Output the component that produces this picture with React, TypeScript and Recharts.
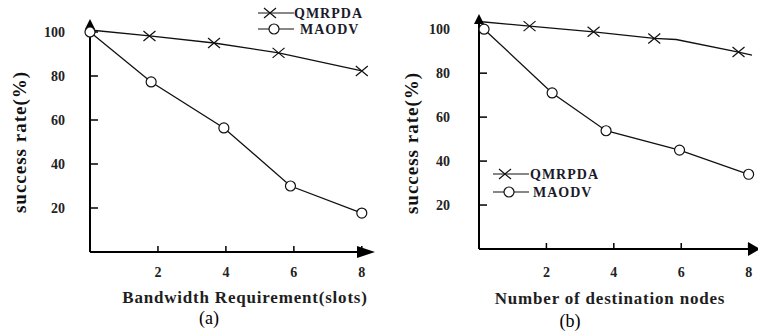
import { LineChart, Line, XAxis, YAxis, Legend, ReferenceDot } from "recharts"

const FONT = '"Liberation Serif", "Times New Roman", serif'
const INK = "#111"

const X_TICKS = [2, 4, 6, 8]
const Y_TICKS = [20, 40, 60, 80, 100]
const SERIES = ["QMRPDA", "MAODV"]

// (a) success rate vs bandwidth requirement (slots)
const A_QMRPDA_X = [0, 1.75, 3.65, 5.55, 8]
const A_QMRPDA_Y = [100.9, 98.2, 95, 90.5, 82.3]
const A_QMRPDA_MARKED = [false, true, true, true, true]
const A_MAODV_X = [0, 1.8, 3.94, 5.9, 8]
const A_MAODV_Y = [100, 77.3, 56.4, 30, 17.7]

// (b) success rate vs number of destination nodes
const B_QMRPDA_X = [0, 1.5, 3.4, 5.2, 5.85, 7.7, 8.1]
const B_QMRPDA_Y = [103.5, 101.4, 98.8, 95.8, 95.3, 89.6, 88.2]
const B_QMRPDA_MARKED = [false, true, true, true, false, true, false]
const B_MAODV_X = [0.15, 2.17, 3.77, 5.95, 8]
const B_MAODV_Y = [100, 71, 53.8, 45, 34]

const toPoints = (xs: number[], ys: number[]) => xs.map((x, i) => ({ x, y: ys[i] }))

function crossDot(marked: boolean[]) {
  return (p: any) => {
    const { cx, cy, index } = p
    if (!marked[index]) return <g key={`c${index}`} />
    return (
      <path
        key={`c${index}`}
        d={`M${cx - 6},${cy - 5}L${cx + 6},${cy + 5}M${cx - 6},${cy + 5}L${cx + 6},${cy - 5}`}
        stroke={INK}
        strokeWidth={1.2}
        fill="none"
      />
    )
  }
}

const circleDot = { r: 5, fill: "#fff", stroke: INK, strokeWidth: 1.2 }

const UpArrow = (p: any) => (
  <path d={`M${p.cx},${p.cy - 2}L${p.cx - 5},${p.cy + 8}L${p.cx + 5},${p.cy + 8}Z`} fill="#000" />
)

const rightArrow = (back: number, tip: number, half: number) => (p: any) => (
  <path
    d={`M${p.cx + tip},${p.cy}L${p.cx - back},${p.cy - half}L${p.cx - back},${p.cy + half}Z`}
    fill="#000"
  />
)

function LegendBox({ textX, gap }: { textX: [number, number]; gap: number }) {
  const y1 = 9
  const y2 = 9 + gap
  const txt = { fontFamily: FONT, fontSize: 14, fontWeight: 700, fill: "#1a1a2a", letterSpacing: 1 }
  return (
    <svg width={120} height={y2 + 10} style={{ display: "block" }}>
      <line x1={0} x2={36} y1={y1} y2={y1} stroke={INK} strokeWidth={1.2} />
      <path d={`M6,${y1 - 5}L18,${y1 + 5}M6,${y1 + 5}L18,${y1 - 5}`} stroke={INK} strokeWidth={1.2} />
      <text x={textX[0]} y={y1} dominantBaseline="central" style={txt}>{SERIES[0]}</text>
      <line x1={0} x2={36} y1={y2} y2={y2} stroke={INK} strokeWidth={1.2} />
      <circle cx={16} cy={y2} r={5} fill="#fff" stroke={INK} strokeWidth={1.2} />
      <text x={textX[1]} y={y2} dominantBaseline="central" style={txt}>{SERIES[1]}</text>
    </svg>
  )
}

interface PanelProps {
  left: number
  yAxisWidth: number
  margin: { top: number; right: number; left: number; bottom: number }
  yMax: number
  xMax: number
  yTickMargin: number
  xTickMargin: number
  qmrpda: { x: number; y: number }[]
  qmrpdaMarked: boolean[]
  maodv: { x: number; y: number }[]
  xTitle: string
  xTitlePos: [number, number]
  yTitlePos: [number, number]
  legendPos: [number, number]
  legendTextX: [number, number]
  legendGap: number
  arrow: [number, number, number]
}

function Panel(p: PanelProps) {
  const tick = { fontSize: 14, fontWeight: 700, fill: "#222", fontFamily: FONT }
  return (
    <div style={{ position: "absolute", left: p.left, top: 0 }}>
      <LineChart width={380} height={336} margin={p.margin} style={{ fontFamily: FONT }}>
        <XAxis
          dataKey="x"
          type="number"
          domain={[0, p.xMax]}
          ticks={X_TICKS}
          height={40}
          tick={tick}
          tickSize={-6}
          tickMargin={p.xTickMargin}
          tickLine={{ stroke: "#000", strokeWidth: 1.5 }}
          axisLine={{ stroke: "#000", strokeWidth: 2 }}
          label={{
            content: () => (
              <text
                x={p.xTitlePos[0]}
                y={p.xTitlePos[1]}
                textAnchor="middle"
                dominantBaseline="central"
                style={{ fontFamily: FONT, fontSize: 17, fontWeight: 700, fill: "#1e1e1e", letterSpacing: 0.8 }}
              >
                {p.xTitle}
              </text>
            ),
          }}
        />
        <YAxis
          type="number"
          domain={[0, p.yMax]}
          ticks={Y_TICKS}
          width={p.yAxisWidth}
          tick={tick}
          tickSize={-8}
          tickMargin={p.yTickMargin}
          tickLine={{ stroke: "#000", strokeWidth: 1.5 }}
          axisLine={{ stroke: "#000", strokeWidth: 2 }}
          label={{
            content: () => (
              <text
                x={p.yTitlePos[0]}
                y={p.yTitlePos[1]}
                textAnchor="middle"
                dominantBaseline="central"
                transform={`rotate(-90 ${p.yTitlePos[0]} ${p.yTitlePos[1]})`}
                style={{ fontFamily: FONT, fontSize: 19, fontWeight: 700, fill: "#111", letterSpacing: 1 }}
              >
                success rate(%)
              </text>
            ),
          }}
        />
        <Legend
          layout="horizontal"
          verticalAlign="middle"
          align="center"
          wrapperStyle={{ left: p.legendPos[0], top: p.legendPos[1], width: 120 }}
          content={() => <LegendBox textX={p.legendTextX} gap={p.legendGap} />}
        />
        <Line
          data={p.qmrpda}
          dataKey="y"
          name={SERIES[0]}
          type="linear"
          stroke={INK}
          strokeWidth={1.3}
          dot={crossDot(p.qmrpdaMarked)}
          activeDot={false}
          isAnimationActive={false}
        />
        <Line
          data={p.maodv}
          dataKey="y"
          name={SERIES[1]}
          type="linear"
          stroke={INK}
          strokeWidth={1.3}
          dot={circleDot}
          activeDot={false}
          isAnimationActive={false}
        />
        <ReferenceDot x={0} y={p.yMax} shape={UpArrow} />
        <ReferenceDot x={p.xMax} y={0} shape={rightArrow(p.arrow[0], p.arrow[1], p.arrow[2])} />
      </LineChart>
    </div>
  )
}

const caption = (text: string, x: number, y: number) => (
  <div
    style={{
      position: "absolute",
      left: x,
      top: y,
      transform: "translate(-50%, -50%)",
      fontFamily: FONT,
      fontSize: 18,
      color: "#000",
      lineHeight: 1,
    }}
  >
    {text}
  </div>
)

export default function App() {
  return (
    <div style={{ position: "fixed", left: 0, top: 0, width: 758, height: 336, background: "#fff", overflow: "hidden" }}>
      <Panel
        left={0}
        yAxisWidth={90}
        margin={{ top: 21, right: 8, left: 0, bottom: 44 }}
        yMax={105}
        xMax={8.3}
        yTickMargin={33}
        xTickMargin={21}
        qmrpda={toPoints(A_QMRPDA_X, A_QMRPDA_Y)}
        qmrpdaMarked={A_QMRPDA_MARKED}
        maodv={toPoints(A_MAODV_X, A_MAODV_Y)}
        xTitle="Bandwidth Requirement(slots)"
        xTitlePos={[245, 297]}
        yTitlePos={[19, 142]}
        legendPos={[258, 4]}
        legendTextX={[36, 42]}
        legendGap={16}
        arrow={[15, 3, 6]}
      />
      <Panel
        left={378}
        yAxisWidth={101}
        margin={{ top: 16, right: 6, left: 0, bottom: 47 }}
        yMax={106}
        xMax={8.1}
        yTickMargin={37}
        xTickMargin={24}
        qmrpda={toPoints(B_QMRPDA_X, B_QMRPDA_Y)}
        qmrpdaMarked={B_QMRPDA_MARKED}
        maodv={toPoints(B_MAODV_X, B_MAODV_Y)}
        xTitle="Number of destination nodes"
        xTitlePos={[232, 298]}
        yTitlePos={[33, 143]}
        legendPos={[115, 165]}
        legendTextX={[37, 40]}
        legendGap={18}
        arrow={[4, 8, 7]}
      />
      {caption("(a)", 209, 318)}
      {caption("(b)", 570, 321)}
    </div>
  )
}
